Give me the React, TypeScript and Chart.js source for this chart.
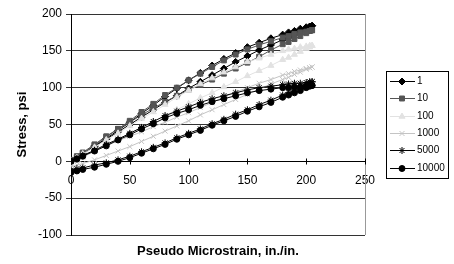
import React, { useEffect, useRef } from "react";
import { Chart, registerables } from "chart.js";
import { drawPoint } from "chart.js/helpers";

Chart.register(...registerables);

const seriesNames = ["1", "10", "100", "1000", "5000", "10000"];
const xTickValues = [0, 50, 100, 150, 200, 250];
const yTickValues = [-100, -50, 0, 50, 100, 150, 200];
const xTitle = "Pseudo Microstrain, in./in.";
const yTitle = "Stress, psi";

// strain points of the loading branch (0 -> 205) and unloading branch (205 -> 0)
const strainLoad = [0, 5, 10, 20, 30, 40, 50, 60, 70, 80, 90, 100, 110, 120, 130, 140, 150, 160, 170, 180, 185, 190, 195, 200, 203, 205];
const strainUnload = [205, 203, 200, 195, 190, 185, 180, 170, 160, 150, 140, 130, 120, 110, 100, 90, 80, 70, 60, 50, 40, 30, 20, 10, 5, 0];

const load1 = [0, 5, 10, 21, 31, 42, 53, 65, 76, 88, 99, 110, 120, 130, 139, 147, 155, 161, 167, 172, 175, 177, 180, 182, 183, 184];
const unload1 = [184, 183, 180, 176, 172, 168, 165, 158, 151, 143, 135, 126, 117, 108, 99, 89, 80, 70, 60, 50, 40, 30, 20, 10, 5, 0];
const load10 = [0, 5, 11, 22, 33, 44, 55, 67, 78, 90, 100, 110, 119, 128, 137, 145, 152, 158, 163, 168, 170, 173, 175, 176, 177, 178];
const unload10 = [178, 177, 174, 170, 166, 162, 159, 151, 142, 134, 126, 119, 111, 104, 97, 89, 81, 72, 63, 53, 44, 34, 23, 12, 7, 2];
const load100 = [0, 5, 10, 19, 29, 38, 48, 58, 67, 77, 87, 96, 105, 113, 121, 128, 135, 140, 145, 150, 152, 153, 155, 156, 157, 157];
const unload100 = [157, 155, 153, 149, 145, 141, 138, 130, 123, 116, 108, 101, 93, 86, 78, 70, 62, 54, 46, 38, 30, 22, 14, 5, 1, -3];
const load1000 = [0, 3, 7, 14, 21, 28, 34, 40, 47, 53, 60, 66, 73, 80, 87, 94, 100, 106, 111, 117, 119, 122, 124, 126, 127, 128];
const unload1000 = [128, 127, 125, 121, 118, 114, 111, 105, 98, 91, 84, 77, 70, 63, 55, 48, 41, 34, 27, 20, 14, 8, 2, -3, -5, -8];
const load5000 = [0, 4, 8, 15, 23, 30, 38, 46, 54, 62, 68, 74, 80, 85, 89, 93, 97, 100, 102, 104, 105, 106, 106, 107, 108, 108];
const unload5000 = [108, 106, 104, 100, 97, 93, 90, 83, 77, 70, 64, 57, 51, 44, 38, 32, 25, 19, 13, 7, 2, -2, -5, -9, -10, -12];
const load10000 = [0, 3, 7, 14, 21, 29, 36, 44, 51, 59, 65, 70, 76, 81, 85, 89, 93, 96, 98, 100, 100, 101, 101, 102, 103, 103];
const unload10000 = [103, 102, 100, 96, 93, 90, 87, 80, 74, 68, 61, 55, 49, 42, 36, 30, 23, 17, 11, 5, 0, -4, -8, -11, -13, -15];

const loads = [load1, load10, load100, load1000, load5000, load10000];
const unloads = [unload1, unload10, unload100, unload1000, unload5000, unload10000];

const styles = [
  { color: "#000000", point: "rectRot", radius: 3.5 },
  { color: "#555555", point: "rect", radius: 3.5 },
  { color: "#e2e2e2", point: "triangle", radius: 3.5 },
  { color: "#c4c4c4", point: "crossRot", radius: 3.5 },
  { color: "#000000", point: "star", radius: 3.5 },
  { color: "#000000", point: "circle", radius: 3 },
];

const FONT = '"Liberation Sans", Arial, sans-serif';

const decorPlugin = {
  id: "decor",
  afterDraw(chart: any) {
    const { ctx, chartArea: a, scales } = chart;
    ctx.save();
    // right border of plot area
    ctx.strokeStyle = "#999";
    ctx.lineWidth = 1;
    ctx.beginPath();
    ctx.moveTo(Math.round(a.right) + 0.5, a.top);
    ctx.lineTo(Math.round(a.right) + 0.5, a.bottom);
    ctx.stroke();
    // crossing tick marks on the x axis at y = 0
    const y0 = Math.round(scales.y.getPixelForValue(0)) + 0.5;
    ctx.strokeStyle = "#000";
    ctx.beginPath();
    for (const v of xTickValues) {
      const px = Math.round(scales.x.getPixelForValue(v)) + 0.5;
      ctx.moveTo(px, y0 - 3);
      ctx.lineTo(px, y0 + 3);
    }
    ctx.stroke();
    // axis titles
    ctx.fillStyle = "#000";
    ctx.font = `bold 13px ${FONT}`;
    ctx.textAlign = "center";
    ctx.textBaseline = "middle";
    ctx.fillText(xTitle, (a.left + a.right) / 2, 251);
    ctx.save();
    ctx.translate(22, (a.top + a.bottom) / 2);
    ctx.rotate(-Math.PI / 2);
    ctx.fillText(yTitle, 0, 0);
    ctx.restore();
    // legend
    const lx = 386.5, ly = 71.5, lw = 62, lh = 107;
    ctx.fillStyle = "#fff";
    ctx.fillRect(lx, ly, lw, lh);
    ctx.strokeStyle = "#000";
    ctx.strokeRect(lx, ly, lw, lh);
    ctx.font = `10px ${FONT}`;
    ctx.textAlign = "left";
    seriesNames.forEach((name, i) => {
      const s = styles[i];
      const y = Math.round(81 + i * 17.3) + 0.5;
      ctx.strokeStyle = s.color;
      ctx.fillStyle = s.color;
      ctx.lineWidth = 1;
      ctx.beginPath();
      ctx.moveTo(390, y);
      ctx.lineTo(415, y);
      ctx.stroke();
      drawPoint(ctx, { pointStyle: s.point, radius: s.radius, rotation: 0, borderWidth: 1 }, 402, y);
      ctx.fillStyle = "#000";
      ctx.fillText(name, 417, y);
    });
    ctx.restore();
  },
};

export default function App() {
  const ref = useRef<HTMLCanvasElement>(null);
  useEffect(() => {
    const datasets = seriesNames.map((name, i) => {
      const pts = [
        ...strainLoad.map((x, j) => ({ x, y: loads[i][j] })),
        ...strainUnload.map((x, j) => ({ x, y: unloads[i][j] })),
      ];
      const s = styles[i];
      return {
        label: name,
        data: pts,
        showLine: true,
        borderColor: s.color,
        backgroundColor: s.color,
        borderWidth: 1,
        pointStyle: s.point,
        pointRadius: s.radius,
        pointBorderWidth: 1,
        pointBorderColor: s.color,
        pointBackgroundColor: s.color,
        tension: 0,
        fill: false,
        order: 5 - i,
      };
    });
    const chart = new Chart(ref.current!, {
      type: "scatter",
      data: { datasets },
      options: {
        responsive: false,
        animation: false,
        devicePixelRatio: 1,
        layout: { padding: { left: 0, top: 14, right: 89, bottom: 29 } },
        plugins: { legend: { display: false }, tooltip: { enabled: false } },
        scales: {
          x: {
            type: "linear",
            min: 0,
            max: 250,
            position: { y: 0 },
            afterBuildTicks: (s: any) => { s.ticks = xTickValues.map((v) => ({ value: v })); },
            grid: { display: true, drawOnChartArea: false, drawTicks: false },
            border: { display: true, color: "#000", width: 1 },
            ticks: { color: "#000", font: { family: FONT, size: 12 }, padding: 12, maxRotation: 0 },
          },
          y: {
            type: "linear",
            min: -100,
            max: 200,
            afterBuildTicks: (s: any) => { s.ticks = yTickValues.map((v) => ({ value: v })); },
            afterFit: (s: any) => { s.width = 71; },
            grid: { color: "#333", tickLength: 5, drawTicks: true },
            border: { display: true, color: "#000", width: 1 },
            ticks: { color: "#000", font: { family: FONT, size: 12 }, padding: 4 },
          },
        },
      },
      plugins: [decorPlugin],
    });
    return () => chart.destroy();
  }, []);
  return (
    <div style={{ position: "absolute", left: 0, top: 0, width: 454, height: 264, background: "#fff" }}>
      <canvas ref={ref} width={454} height={264} />
    </div>
  );
}
